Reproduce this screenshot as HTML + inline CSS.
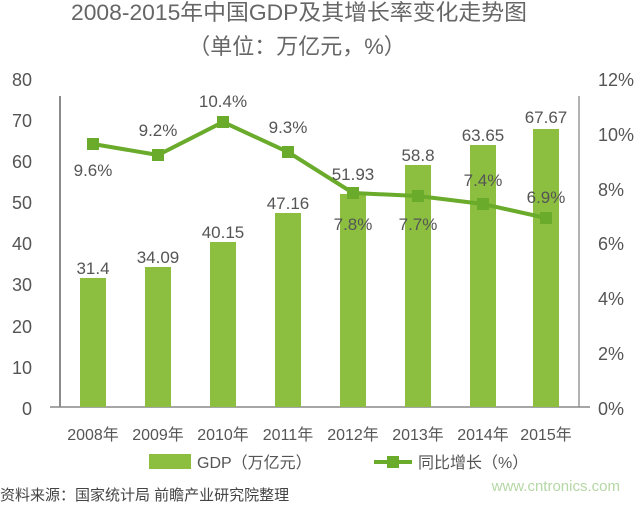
<!DOCTYPE html><html><head><meta charset="utf-8"><style>body{margin:0;background:#fff}</style></head><body>
<svg width="640" height="505" xmlns="http://www.w3.org/2000/svg" font-family="Liberation Sans, Noto Sans CJK SC, sans-serif" fill="#555">
<text x="299" y="20" text-anchor="middle" font-size="22" fill="#666" textLength="456" lengthAdjust="spacingAndGlyphs">2008-2015年中国GDP及其增长率变化走势图</text>
<text x="297" y="54" text-anchor="middle" font-size="22" fill="#666">（单位：万亿元，%）</text>
<g font-size="18" text-anchor="end">
<text x="32" y="86">80</text><text x="32" y="127">70</text><text x="32" y="168">60</text><text x="32" y="209">50</text><text x="32" y="250">40</text><text x="32" y="291">30</text><text x="32" y="333">20</text><text x="32" y="374">10</text><text x="32" y="415">0</text>
</g>
<g font-size="18">
<text x="598" y="86">12%</text><text x="598" y="141">10%</text><text x="598" y="196">8%</text><text x="598" y="250">6%</text><text x="598" y="305">4%</text><text x="598" y="360">2%</text><text x="598" y="415">0%</text>
</g>
<line x1="60" y1="96" x2="60" y2="407" stroke="#666" stroke-width="1.5"/>
<line x1="579" y1="96" x2="579" y2="407" stroke="#999" stroke-width="1.5"/>
<line x1="50" y1="407" x2="590" y2="407" stroke="#888" stroke-width="1.5"/>
<g fill="#8cbf3f">
<rect x="80" y="278" width="26" height="129"/>
<rect x="145" y="267" width="26" height="140"/>
<rect x="210" y="242" width="26" height="165"/>
<rect x="275" y="213" width="26" height="194"/>
<rect x="340" y="194" width="26" height="213"/>
<rect x="405" y="165" width="26" height="242"/>
<rect x="470" y="145" width="26" height="262"/>
<rect x="533" y="129" width="26" height="278"/>
</g>
<polyline fill="none" stroke="#6aab2b" stroke-width="4" points="93,144 158,155 223,122 288,152 353,193 418,196 483,204 546,218"/>
<g fill="#6aab2b">
<rect x="87" y="138" width="12" height="12"/><rect x="152" y="149" width="12" height="12"/><rect x="217" y="116" width="12" height="12"/><rect x="282" y="146" width="12" height="12"/><rect x="347" y="187" width="12" height="12"/><rect x="412" y="190" width="12" height="12"/><rect x="477" y="198" width="12" height="12"/><rect x="540" y="212" width="12" height="12"/>
</g>
<g font-size="17" text-anchor="middle">
<text x="93" y="274">31.4</text><text x="158" y="263">34.09</text><text x="223" y="238">40.15</text><text x="288" y="209">47.16</text><text x="353" y="180">51.93</text><text x="418" y="161">58.8</text><text x="483" y="141">63.65</text><text x="546" y="123">67.67</text>
<text x="93" y="176">9.6%</text><text x="158" y="136">9.2%</text><text x="223" y="107">10.4%</text><text x="288" y="133">9.3%</text><text x="353" y="230">7.8%</text><text x="418" y="230">7.7%</text><text x="483" y="186">7.4%</text><text x="546" y="203">6.9%</text>
</g>
<g font-size="16" text-anchor="middle">
<text x="93" y="440">2008年</text><text x="158" y="440">2009年</text><text x="223" y="440">2010年</text><text x="288" y="440">2011年</text><text x="353" y="440">2012年</text><text x="418" y="440">2013年</text><text x="483" y="440">2014年</text><text x="546" y="440">2015年</text>
</g>
<rect x="149" y="454" width="42" height="15" fill="#8cbf3f"/>
<text x="197" y="468" font-size="16">GDP（万亿元）</text>
<line x1="374" y1="462" x2="412" y2="462" stroke="#6aab2b" stroke-width="4"/>
<rect x="387" y="456" width="12" height="12" fill="#6aab2b"/>
<text x="418" y="468" font-size="16">同比增长（%）</text>
<text x="0" y="500" font-size="15" fill="#444">资料来源：国家统计局 前瞻产业研究院整理</text>
<text x="620" y="491" font-size="15" text-anchor="end" fill="#b5d7a5">www.cntronics.com</text>
</svg></body></html>
